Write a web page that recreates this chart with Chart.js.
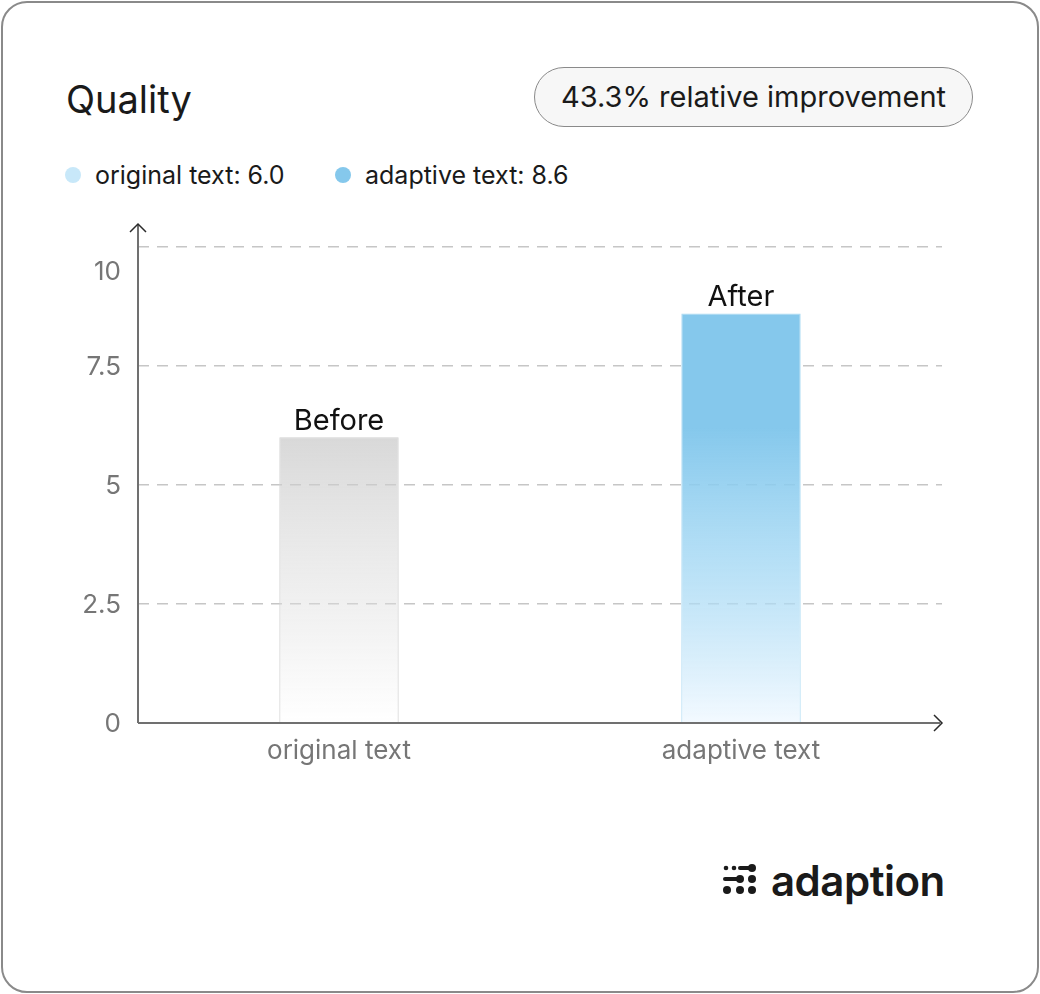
<!DOCTYPE html>
<html>
<head>
<meta charset="utf-8">
<script src="https://cdn.jsdelivr.net/npm/chart.js@4.4.1/dist/chart.umd.min.js"></script>
<style>
  html, body { margin: 0; padding: 0; background: #ffffff; }
  body { width: 1040px; height: 994px; position: relative; overflow: hidden; font-family: Inter, "Noto Sans", sans-serif; }
  #card { position: absolute; left: 1px; top: 1px; width: 1034px; height: 988px; border: 2px solid #8a8a8a; border-radius: 26px; background: #fff; }
  #title { position: absolute; left: 66px; top: 75px; font-size: 38px; color: #1a1a1a; line-height: 48px; }
  #pill { position: absolute; left: 534px; top: 67px; width: 437px; height: 58px; border: 1px solid #8a8a8a; border-radius: 30px; background: #f7f7f7; font-size: 29px; color: #1a1a1a; line-height: 58px; text-align: center; }
  .leg { position: absolute; top: 159px; font-size: 25px; color: #1a1a1a; line-height: 32px; }
  .dot { position: absolute; width: 16px; height: 16px; border-radius: 50%; top: 167px; }
  #logoText { position: absolute; left: 771px; top: 853px; font-size: 42px; font-weight: 600; color: #1a1a1a; letter-spacing: -0.5px; line-height: 56px; }
  #chartWrap { position: absolute; left: 0; top: 0; width: 1040px; height: 994px; }
</style>
</head>
<body>
<div id="card"></div>
<div id="title">Quality</div>
<div id="pill">43.3% relative improvement</div>
<div class="dot" id="dot0" style="left:65px;"></div>
<div class="leg" id="leg0" style="left:95px;"></div>
<div class="dot" id="dot1" style="left:335px;"></div>
<div class="leg" id="leg1" style="left:365px;"></div>
<svg style="position:absolute;left:715px;top:855px;" width="50" height="45" viewBox="715 855 50 45">
  <g fill="#1a1a1a" stroke="#1a1a1a">
    <circle cx="726" cy="868" r="2.3" stroke="none"/>
    <circle cx="734" cy="868" r="2.3" stroke="none"/>
    <line x1="740" y1="868" x2="751" y2="868" stroke-width="4" stroke-linecap="round"/>
    <circle cx="752" cy="868" r="4" stroke="none"/>
    <line x1="725" y1="879" x2="739" y2="879" stroke-width="4" stroke-linecap="round"/>
    <circle cx="740" cy="879" r="4" stroke="none"/>
    <circle cx="752" cy="879" r="4" stroke="none"/>
    <circle cx="727" cy="890" r="4" stroke="none"/>
    <circle cx="740" cy="890" r="4" stroke="none"/>
    <circle cx="752" cy="890" r="4" stroke="none"/>
  </g>
</svg>
<div id="logoText">adaption</div>
<div id="chartWrap"><canvas id="c" width="1040" height="994"></canvas></div>
<script>
const categories = ["original text", "adaptive text"];
const values = [6.0, 8.6];
const barLabels = ["Before", "After"];
const legendLabels = ["original text: 6.0", "adaptive text: 8.6"];
const legendColors = ["#c8e8f9", "#85c8ec"];
const yTicks = [0, 2.5, 5, 7.5, 10];
const yTickLabels = ["0", "2.5", "5", "7.5", "10"];

document.getElementById('leg0').textContent = legendLabels[0];
document.getElementById('leg1').textContent = legendLabels[1];
document.getElementById('dot0').style.background = legendColors[0];
document.getElementById('dot1').style.background = legendColors[1];

function barGradient(ctx) {
  const chart = ctx.chart;
  const area = chart.chartArea;
  if (!area) return 'rgba(0,0,0,0)';
  const ys = chart.scales.y;
  const v = ctx.raw;
  const top = ys.getPixelForValue(v);
  const bot = ys.getPixelForValue(0);
  const g = chart.ctx.createLinearGradient(0, top, 0, bot);
  if (ctx.dataIndex === 0) {
    g.addColorStop(0, 'rgba(200,200,200,0.7)');
    g.addColorStop(0.55, 'rgba(220,220,220,0.45)');
    g.addColorStop(1, 'rgba(255,255,255,0.5)');
  } else {
    g.addColorStop(0, 'rgba(133,200,236,1)');
    g.addColorStop(0.28, 'rgba(133,200,236,1)');
    g.addColorStop(0.6, 'rgba(150,210,242,0.7)');
    g.addColorStop(1, 'rgba(240,248,255,0.8)');
  }
  return g;
}

const decor = {
  id: 'decor',
  afterDatasetsDraw(chart) {
    const c = chart.ctx;
    const a = chart.chartArea;
    const ys = chart.scales.y;
    const xs = chart.scales.x;
    c.save();
    // axes
    c.strokeStyle = '#707070';
    c.lineWidth = 2;
    c.beginPath();
    c.moveTo(a.left, a.bottom);
    c.lineTo(a.left, a.top + 2);
    c.moveTo(a.left, a.bottom);
    c.lineTo(a.right - 2, a.bottom);
    c.stroke();
    // arrows
    c.strokeStyle = '#2a2a2a';
    c.lineWidth = 1.5;
    c.beginPath();
    c.moveTo(a.left - 8, a.top + 9);
    c.lineTo(a.left, a.top + 1);
    c.lineTo(a.left + 8, a.top + 9);
    c.moveTo(a.right - 8, a.bottom - 8);
    c.lineTo(a.right, a.bottom);
    c.lineTo(a.right - 8, a.bottom + 8);
    c.stroke();
    // y tick labels
    c.fillStyle = '#767676';
    c.font = '26px Inter, "Noto Sans", sans-serif';
    c.textAlign = 'right';
    c.textBaseline = 'middle';
    yTicks.forEach((t, i) => {
      let y = ys.getPixelForValue(t);
      if (i === yTicks.length - 1) y += 24;
      c.fillText(yTickLabels[i], 121, y + 1);
    });
    // x tick labels
    c.textAlign = 'center';
    categories.forEach((cat, i) => {
      c.fillText(cat, xs.getPixelForValue(i), a.bottom + 28);
    });
    // bar labels
    c.fillStyle = '#111111';
    c.font = '29px Inter, "Noto Sans", sans-serif';
    c.textBaseline = 'alphabetic';
    const meta = chart.getDatasetMeta(0);
    meta.data.forEach((bar, i) => {
      c.fillText(barLabels[i], bar.x, bar.y - 7);
    });
    c.restore();
  }
};

new Chart(document.getElementById('c'), {
  type: 'bar',
  data: {
    labels: categories,
    datasets: [{
      data: values,
      backgroundColor: barGradient,
      borderColor: ['#d2d2d2', '#a9d9f2'],
      borderWidth: 1,
      borderSkipped: 'bottom',
      barPercentage: 0.6,
      categoryPercentage: 0.495
    }]
  },
  plugins: [decor],
  options: {
    responsive: false,
    animation: false,
    devicePixelRatio: 1,
    layout: { padding: { left: 138, top: 223, right: 98, bottom: 271 } },
    plugins: { legend: { display: false }, tooltip: { enabled: false } },
    scales: {
      x: {
        display: true,
        ticks: { display: false },
        grid: { display: false, drawTicks: false },
        border: { display: false }
      },
      y: {
        display: true,
        min: 0,
        max: 10.5,
        ticks: { display: false, stepSize: 2.5, includeBounds: false },
        grid: { color: '#c6c6c6', lineWidth: 1.5, drawTicks: false },
        border: { display: false, dash: [11, 8] }
      }
    }
  }
});
</script>
</body>
</html>
